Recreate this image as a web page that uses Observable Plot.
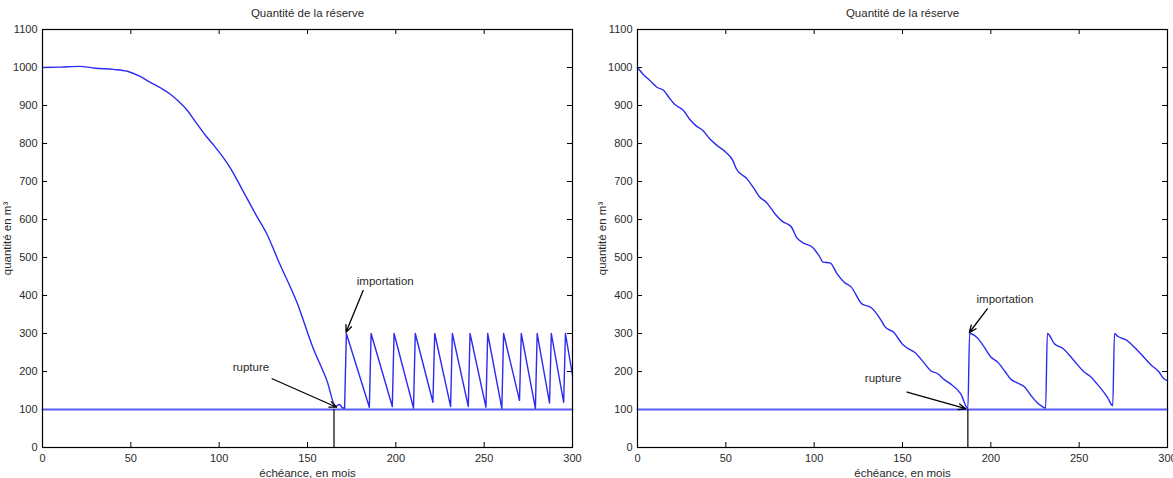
<!DOCTYPE html>
<html>
<head>
<meta charset="utf-8">
<script src="https://cdn.jsdelivr.net/npm/d3@7"></script>
<script src="https://cdn.jsdelivr.net/npm/@observablehq/plot@0.6"></script>
<style>
  html, body { margin: 0; padding: 0; background: white; }
  #wrap { position: relative; width: 1173px; height: 478px; overflow: hidden; }
  #left, #right { position: absolute; top: 0; }
  #left { left: 0; }
  #right { left: 586px; }
</style>
</head>
<body>
<div id="wrap"><div id="left"></div><div id="right"></div></div>
<script>
// ---------- labels ----------
const titleText = "Quantité de la réserve";
const xLabel = "échéance, en mois";
const yLabel = "quantité en m³";
const xTicks = [0, 50, 100, 150, 200, 250, 300];
const yTicks = [0, 100, 200, 300, 400, 500, 600, 700, 800, 900, 1000, 1100];

// ---------- left panel: stock (m³) by month ----------
const leftMonths = [0, 10, 21, 30, 40, 48, 55, 61, 67, 72, 77, 82, 86, 93, 97, 106, 115, 121, 127, 134, 144, 153, 161, 166, 168, 170, 171,
  172, 185, 186, 198, 199, 210, 211, 221, 222, 231, 232, 241, 242, 251, 252, 260, 261, 270, 271, 279, 280, 287, 288, 295, 296, 300];
const leftStock = [1000, 1001, 1003, 998, 995, 990, 977, 961, 946, 931, 911, 887, 861, 817, 795, 738, 662, 611, 562, 486, 382, 264, 176, 108, 113, 104, 104,
  300, 106, 300, 108, 300, 104, 300, 119, 300, 108, 300, 108, 300, 106, 300, 103, 300, 124, 300, 103, 300, 117, 300, 119, 300, 190];

// ---------- right panel: stock (m³) by month ----------
const rightMonths = [0, 4, 7, 11, 15, 18, 21, 24, 26, 30, 33, 37, 41, 45, 50, 54, 56, 62, 66, 69, 73, 78, 82, 87, 90, 94, 99, 103, 105, 109, 113, 117, 121, 127, 132, 138, 140, 145, 150, 153, 157, 162, 166, 170, 173, 177, 183, 187,
  188, 192, 196, 200, 204, 208, 211, 215, 219, 223, 226, 229, 231,
  232, 236, 241, 247, 253, 256, 260, 264, 266, 269,
  270, 272, 277, 281, 285, 291, 295, 298, 300];
const rightStock = [1000, 978, 966, 948, 939, 920, 903, 894, 887, 861, 847, 834, 812, 795, 777, 755, 733, 707, 681, 660, 645, 614, 595, 581, 553, 538, 527, 503, 488, 486, 457, 435, 422, 378, 369, 334, 318, 303, 272, 261, 250, 224, 202, 194, 181, 168, 141, 103,
  300, 290, 266, 238, 224, 200, 181, 170, 160, 135, 119, 108, 104,
  300, 273, 260, 229, 198, 188, 168, 145, 132, 110,
  300, 292, 282, 265, 246, 216, 200, 181, 176];

// ---------- threshold (minimum stock) ----------
const seuilMonths = [0, 300];
const seuilStock = [100, 100];

// ---------- annotations ----------
const leftRupture = [165];
const rightRupture = [187];
const leftFirstImport = 171;   // month after which the left series is a sawtooth of straight segments
const rightFirstImport = 300;  // right series: smooth everywhere
const leftNotes = [
  {label: "rupture", tx: 118, ty: 211, x1: 130, y1: 181, x2: 166.5, y2: 106},
  {label: "importation", tx: 194, ty: 438, x1: 181.5, y1: 413, x2: 171.8, y2: 303}
];
const rightNotes = [
  {label: "rupture", tx: 139, ty: 183, x1: 152.6, y1: 146, x2: 185.8, y2: 102},
  {label: "importation", tx: 208, ty: 390, x1: 198, y1: 365, x2: 187.8, y2: 302}
];

function build(months, stock, split, rupture, notes, W, ML, MR) {
  const H = 478, MT = 29, MB = 31;
  const plotW = W - ML - MR, plotH = H - MT - MB;
  const series = months.map((m, i) => ({m, v: stock[i]}));
  const smooth = series.filter(d => d.m <= split);
  const straight = series.filter(d => d.m >= split);
  const seuil = seuilMonths.map((m, i) => ({m, v: seuilStock[i]}));
  const txt = {fill: "#2a2a2a", fontSize: 11.5};
  return Plot.plot({
    width: W, height: H,
    marginTop: MT, marginBottom: MB, marginLeft: ML, marginRight: MR,
    x: {domain: [0, 300]},
    y: {domain: [0, 1100]},
    style: {fontFamily: "'Liberation Sans', Arial, sans-serif", fontSize: "11px", color: "#2a2a2a", background: "white"},
    marks: [
      Plot.axisX(xTicks, {tickSize: 0, tickPadding: 7, label: null, tickFormat: d => String(d)}),
      Plot.axisY(yTicks, {tickSize: 0, tickPadding: 5, label: null, tickFormat: d => String(d)}),
      Plot.tickX(xTicks, {x: d => d, insetTop: plotH - 5, stroke: "black"}),
      Plot.tickX(xTicks, {x: d => d, insetBottom: plotH - 5, stroke: "black"}),
      Plot.tickY(yTicks, {y: d => d, insetRight: plotW - 5, stroke: "black"}),
      Plot.tickY(yTicks, {y: d => d, insetLeft: plotW - 5, stroke: "black"}),
      Plot.line(seuil, {x: "m", y: "v", stroke: "#5b5bf5", strokeWidth: 2}),
      Plot.line(smooth, {x: "m", y: "v", stroke: "#2b2bf0", strokeWidth: 1.4, curve: "monotone-x"}),
      Plot.line(straight, {x: "m", y: "v", stroke: "#2b2bf0", strokeWidth: 1.4}),
      Plot.ruleX(rupture, {x: d => d, y1: 0, y2: seuilStock[0], stroke: "black", strokeWidth: 1.2}),
      Plot.arrow(notes, {x1: "x1", y1: "y1", x2: "x2", y2: "y2", stroke: "black", strokeWidth: 1.3, headLength: 9, headAngle: 45}),
      Plot.text(notes, {x: "tx", y: "ty", text: "label", ...txt}),
      Plot.frame({stroke: "black", strokeWidth: 1.2}),
      Plot.text([titleText], {frameAnchor: "top", lineAnchor: "middle", dy: -16, ...txt}),
      Plot.text([xLabel], {frameAnchor: "bottom", lineAnchor: "middle", dy: 26, ...txt}),
      Plot.text([yLabel], {frameAnchor: "left", textAnchor: "middle", lineAnchor: "middle", rotate: -90, dx: -35, ...txt})
    ]
  });
}

document.getElementById("left").append(build(leftMonths, leftStock, leftFirstImport, leftRupture, leftNotes, 586, 42, 14));
document.getElementById("right").append(build(rightMonths, rightStock, rightFirstImport, rightRupture, rightNotes, 587, 51, 6));
</script>
</body>
</html>
